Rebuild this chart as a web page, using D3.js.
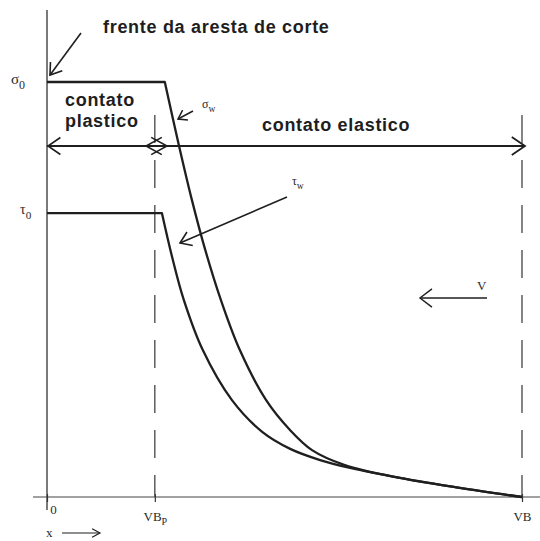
<!DOCTYPE html>
<html>
<head>
<meta charset="utf-8">
<script src="https://cdn.jsdelivr.net/npm/d3@7"></script>
<style>
  html, body { margin: 0; padding: 0; background: #fff; }
  svg { display: block; }
  .bold { font-family: "Liberation Sans", Arial, sans-serif; font-weight: bold; fill: #1e1e1e; letter-spacing: 0.7px; }
  .serif { font-family: "Liberation Serif", "DejaVu Serif", serif; fill: #2a2a2a; }
</style>
</head>
<body>
<svg id="chart" width="540" height="541"></svg>
<script>
// Stress distribution along the flank wear land (x measured from the cutting edge).
// x is expressed as a fraction of VB; stresses as a fraction of sigma0.
const VB_P = 0.227;        // end of the plastic contact zone
const VB = 1.0;            // full wear land width
const SIGMA_0 = 1.0;
const TAU_0 = 0.684;

// Normal stress sigma_w: plateau, then decay to zero at VB
const sigmaPlateau = [[0, SIGMA_0], [0.248, SIGMA_0]];
const sigmaDecay = [
  [0.248, 1.000], [0.278, 0.846], [0.305, 0.716], [0.333, 0.596],
  [0.366, 0.475], [0.406, 0.354], [0.461, 0.234], [0.512, 0.161],
  [0.558, 0.113], [0.627, 0.077], [0.743, 0.046], [0.869, 0.022],
  [1.000, 0.000]
];

// Shear stress tau_w: plateau, then decay merging with sigma_w
const tauPlateau = [[0, TAU_0], [0.242, TAU_0]];
const tauDecay = [
  [0.242, 0.684], [0.265, 0.571], [0.288, 0.475], [0.328, 0.354],
  [0.389, 0.234], [0.453, 0.157], [0.512, 0.116], [0.575, 0.089],
  [0.638, 0.070], [0.743, 0.046], [0.869, 0.022], [1.000, 0.000]
];

// Tick labels on the x axis
const xTickValues = [0, VB_P, VB];
const xTickLabels = [["0", ""], ["VB", "P"], ["VB", ""]];

const svg = d3.select("#chart");
const ink = "#1f1f1f";

const x = d3.scaleLinear().domain([0, 1]).range([47, 522]);
const y = d3.scaleLinear().domain([0, 1]).range([497, 82]);

// open chevron arrow head; (tx,ty) tip, angle = direction of travel in radians
function chevron(g, tx, ty, angle, len = 13, spread = 0.6, width = 1.6) {
  const pts = [spread, -spread].map(s => [
    tx - len * Math.cos(angle + s),
    ty - len * Math.sin(angle + s)
  ]);
  g.append("path")
    .attr("d", `M${pts[0][0]},${pts[0][1]}L${tx},${ty}L${pts[1][0]},${pts[1][1]}`)
    .attr("fill", "none").attr("stroke", ink).attr("stroke-width", width)
    .attr("stroke-linejoin", "miter");
}
function arrow(g, x1, y1, x2, y2, opts = {}) {
  g.append("line").attr("x1", x1).attr("y1", y1).attr("x2", x2).attr("y2", y2)
    .attr("stroke", ink).attr("stroke-width", opts.width || 1.6);
  chevron(g, x2, y2, Math.atan2(y2 - y1, x2 - x1), opts.len || 13, opts.spread || 0.6, opts.width || 1.6);
}

// axes
const axes = svg.append("g");
axes.append("line").attr("x1", 47).attr("x2", 47).attr("y1", 10).attr("y2", 510)
  .attr("stroke", "#333").attr("stroke-width", 1.3);
axes.append("line").attr("x1", 33).attr("x2", 540).attr("y1", y(0)).attr("y2", y(0))
  .attr("stroke", "#444").attr("stroke-width", 1.2);

const xAxis = d3.axisBottom(x).tickValues(xTickValues).tickSize(8).tickFormat("");
const xg = svg.append("g").attr("transform", `translate(0,${y(0) - 3})`).call(xAxis);
xg.select(".domain").remove();
xg.selectAll(".tick line").attr("stroke", "#333").attr("stroke-width", 1.2);
xg.selectAll(".tick").each(function (d, i) {
  const [main, sub] = xTickLabels[i];
  const t = d3.select(this).append("text").attr("class", "serif")
    .attr("y", i === 0 ? 20 : 27).attr("x", i === 0 ? 6 : 0)
    .attr("text-anchor", "middle").attr("fill", "#2a2a2a")
    .style("font-size", "13px");
  t.append("tspan").text(main);
  if (sub) t.append("tspan").attr("dy", 4).style("font-size", "10px").text(sub);
});

// dashed limits at VB_p and VB
[VB_P, VB].forEach(v => {
  svg.append("line").attr("x1", x(v)).attr("x2", x(v)).attr("y1", 115).attr("y2", y(0))
    .attr("stroke", "#444").attr("stroke-width", 1.3).attr("stroke-dasharray", "28,17");
});

// stress curves
const lin = d3.line().x(d => x(d[0])).y(d => y(d[1]));
const smooth = d3.line().x(d => x(d[0])).y(d => y(d[1])).curve(d3.curveCatmullRom.alpha(0.5));
const curves = svg.append("g").attr("fill", "none").attr("stroke", ink)
  .attr("stroke-width", 2.3).attr("stroke-linejoin", "round");
curves.append("path").attr("d", lin(sigmaPlateau) + smooth(sigmaDecay).replace(/^M/, "L"));
curves.append("path").attr("d", lin(tauPlateau) + smooth(tauDecay).replace(/^M/, "L"));

// contact zone double arrows
const zones = svg.append("g");
const yz = 146;
zones.append("line").attr("x1", 47).attr("x2", 525).attr("y1", yz).attr("y2", yz)
  .attr("stroke", ink).attr("stroke-width", 1.8);
chevron(zones, 48, yz, Math.PI, 15, 0.6, 1.6);
chevron(zones, 167, yz, 0, 18, 0.5, 1.6);
chevron(zones, 146, yz, Math.PI, 18, 0.5, 1.6);
chevron(zones, 525, yz, 0, 16, 0.6, 1.8);

// text annotations
svg.append("text").attr("class", "bold").attr("x", 103).attr("y", 33)
  .style("font-size", "18px").text("frente da aresta de corte");
arrow(svg, 81, 33, 50, 75);
svg.append("text").attr("class", "bold").attr("x", 65).attr("y", 106)
  .style("font-size", "18px").text("contato");
svg.append("text").attr("class", "bold").attr("x", 65).attr("y", 127)
  .style("font-size", "18px").text("plastico");
svg.append("text").attr("class", "bold").attr("x", 262).attr("y", 131)
  .style("font-size", "18px").text("contato elastico");

function greek(txt, sub, gx, gy, size) {
  const t = svg.append("text").attr("class", "serif").attr("x", gx).attr("y", gy)
    .style("font-size", size + "px");
  t.append("tspan").text(txt);
  t.append("tspan").attr("dy", size * 0.35).style("font-size", (size * 0.8) + "px").text(sub);
}
greek("σ", "0", 11, 84, 15);
greek("τ", "0", 20, 214, 14);
greek("σ", "w", 202, 108, 12);
arrow(svg, 193, 111, 178, 119, { len: 10, width: 1.5 });
greek("τ", "w", 292, 185, 12);
arrow(svg, 287, 197, 180, 243, { len: 13, width: 1.6 });

// cutting speed
arrow(svg, 487, 298, 420, 298, { len: 15, spread: 0.65, width: 1.4 });
svg.append("text").attr("class", "serif").attr("x", 477).attr("y", 290)
  .style("font-size", "13px").text("V");

// x direction
svg.append("text").attr("class", "serif").attr("x", 46).attr("y", 537)
  .style("font-size", "13px").text("x");
arrow(svg, 62, 533, 100, 533, { len: 9, spread: 0.5, width: 1.2 });
</script>
</body>
</html>
